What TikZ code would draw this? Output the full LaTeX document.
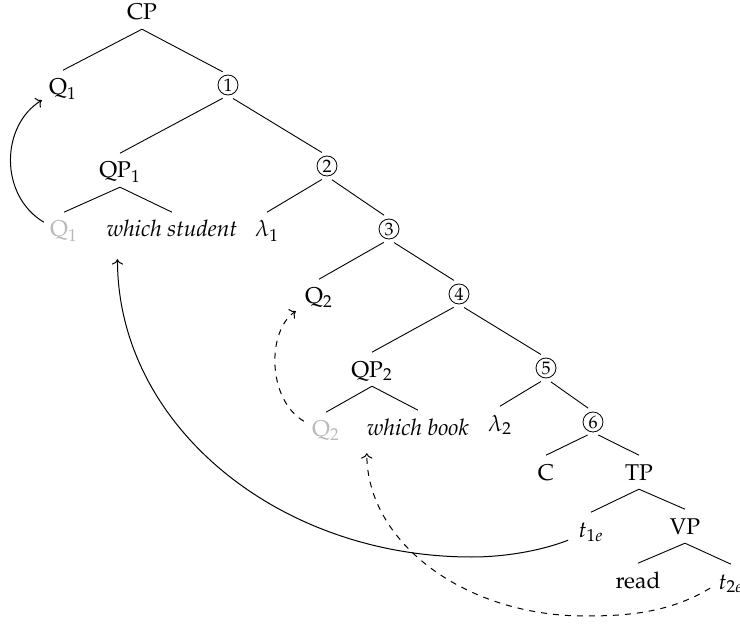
\documentclass[tikz,border=0pt]{standalone}
\usepackage[T1]{fontenc}
\usepackage{mathpazo}
\usetikzlibrary{arrows.meta}
\begin{document}
\begin{tikzpicture}[x=0.5pt,y=-0.5pt,
  font=\fontsize{11.4}{13.5}\selectfont,
  lbl/.style={anchor=base, inner xsep=0pt, inner ysep=4.4pt, text height=7.8pt, text depth=0pt},
  ghost/.style={lbl, text=black!27},
  circ/.style={circle, draw, line width=0.4pt, inner sep=0pt, minimum size=10pt, font=\fontsize{9}{10}\selectfont},
  branch/.style={line width=0.45pt},
  outc/.style={shorten <=3pt},
  inc/.style={shorten >=3pt},
  move/.style={line width=0.5pt, ->},
  movedash/.style={move, dashed}]
\useasboundingbox (0,0) rectangle (740,626);

% tree nodes
\node[lbl] (CP) at (142,20) {CP};
\node[lbl] (Q1) at (63,95) {Q$_1$};
\node[circ] (c1) at (228,85) {1};
\node[lbl] (QP1) at (120,178) {QP$_1$};
\node[circ] (c2) at (327,166) {2};
\node[ghost] (Q1g) at (64,237) {Q$_1$};
\node[lbl] (ws) at (172,237) {\textit{which student}};
\node[lbl] (l1) at (267,237) {$\lambda_1$};
\node[circ] (c3) at (389,229) {3};
\node[lbl] (Q2) at (319,304) {Q$_2$};
\node[circ] (c4) at (459,294) {4};
\node[lbl] (QP2) at (372,377) {QP$_2$};
\node[circ] (c5) at (546,368) {5};
\node[ghost] (Q2g) at (326,437) {Q$_2$};
\node[lbl] (wb) at (418,435) {\textit{which book}};
\node[lbl] (l2) at (500,431) {$\lambda_2$};
\node[circ] (c6) at (593,422) {6};
\node[lbl] (C) at (546,480) {C};
\node[lbl] (TP) at (639,480) {TP};
\node[lbl] (t1) at (591,537) {$t_{1e}$};
\node[lbl] (VP) at (685,534) {VP};
\node[lbl] (read) at (638,588) {read};
\node[lbl] (t2) at (731,589) {$t_{2e}$};

% branches
\draw[branch] (CP.south) -- (Q1.north);
\draw[branch, inc] (CP.south) -- (c1.north);
\draw[branch, outc] (c1.south) -- (QP1.north);
\draw[branch, outc, inc] (c1.south) -- (c2.north);
\draw[branch] (QP1.south) -- (Q1g.north);
\draw[branch] (QP1.south) -- (ws.north);
\draw[branch, outc] (c2.south) -- (l1.north);
\draw[branch, outc, inc] (c2.south) -- (c3.north);
\draw[branch, outc] (c3.south) -- (Q2.north);
\draw[branch, outc, inc] (c3.south) -- (c4.north);
\draw[branch, outc] (c4.south) -- (QP2.north);
\draw[branch, outc, inc] (c4.south) -- (c5.north);
\draw[branch] (QP2.south) -- (Q2g.north);
\draw[branch] (QP2.south) -- (wb.north);
\draw[branch, outc] (c5.south) -- (l2.north);
\draw[branch, outc, inc] (c5.south) -- (c6.north);
\draw[branch, outc] (c6.south) -- (C.north);
\draw[branch, outc] (c6.south) -- (TP.north);
\draw[branch] (TP.south) -- (t1.north);
\draw[branch] (TP.south) -- (VP.north);
\draw[branch] (VP.south) -- (read.north);
\draw[branch] (VP.south) -- (t2.north);

% movement arrows
\draw[move] ([shift={(-6,-7)}]Q1g.west) .. controls +(-45,-27) and +(-41,25) .. ([shift={(-7,-4)}]Q1.south west);
\draw[move] ([shift={(-10,-6)}]t1.south west) .. controls +(-31,12) and +(28,0) .. (472,557)
  .. controls +(-195,0) and +(0,165) .. ([shift={(11,13)}]ws.south west);
\draw[movedash] ([shift={(-8,9)}]Q2g.north west) .. controls +(-37,-22) and +(-29,19) .. ([shift={(-9,-2)}]Q2.south west);
\draw[movedash] ([shift={(-8,-10)}]t2.south west) .. controls +(-40,24) and +(45,0) .. (585,616)
  .. controls +(-119,0) and +(0,90) .. ([shift={(0,9)}]wb.south west);
\end{tikzpicture}
\end{document}
